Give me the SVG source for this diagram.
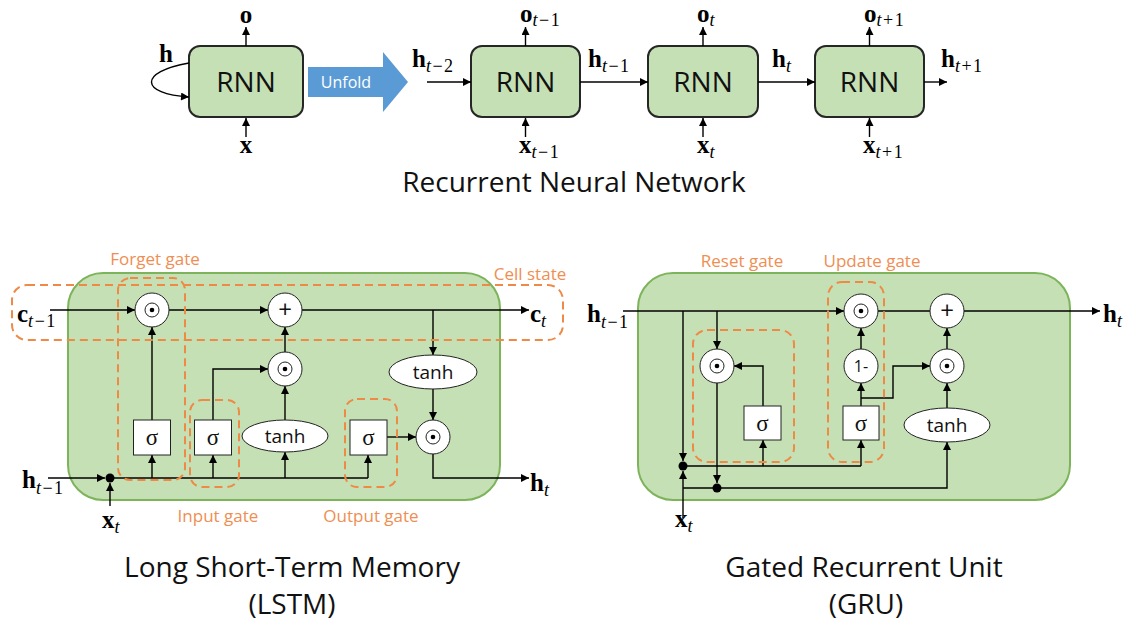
<svg xmlns="http://www.w3.org/2000/svg" width="1136" height="626" viewBox="0 0 1136 626">
  <defs>
    <marker id="ah" viewBox="0 0 10 10" refX="10" refY="5" markerWidth="9" markerHeight="8" markerUnits="userSpaceOnUse" orient="auto">
      <path d="M0,0 L10,5 L0,10 z" fill="#000"/>
    </marker>
    <style>
      .box { fill: #c5e0b4; stroke: #262626; stroke-width: 2; }
      .panel { fill: #c5e0b4; stroke: #7db45b; stroke-width: 2; }
      .gate { fill: none; stroke: #ee8a45; stroke-width: 2; stroke-dasharray: 8 5; }
      .op { fill: #fff; stroke: #222; stroke-width: 1; }
      .wire { fill: none; stroke: #000; stroke-width: 1.4; }
      .arr { marker-end: url(#ah); }
      .var { font-family: "Liberation Serif", serif; font-weight: bold; font-size: 25px; fill: #000; }
      .sub { font-size: 18px; font-weight: normal; letter-spacing: 1.5px; }
      .it { font-style: italic; }
      .lbl { font-family: "Open Sans", sans-serif; fill: #ef8e52; font-size: 17px; text-anchor: middle; }
      .title { font-family: "Open Sans", sans-serif; font-size: 28px; text-anchor: middle; fill: #111; }
      .rnn { font-family: "Open Sans", sans-serif; font-size: 28px; text-anchor: middle; fill: #111; }
      .fn { font-family: "Open Sans", sans-serif; font-size: 19px; text-anchor: middle; fill: #111; }
      .sig { font-family: "Liberation Serif", serif; font-size: 23px; text-anchor: middle; fill: #111; }
      .dot { fill: #000; }
    </style>
  </defs>
  <rect width="1136" height="626" fill="#fff"/>

  <!-- ===== Recurrent Neural Network (folded + unrolled) ===== -->
  <g id="rnn-folded">
    <rect class="box" x="189" y="46" width="114" height="71" rx="11"/>
    <text class="rnn" x="246" y="92">RNN</text>
  </g>
  <g id="unfold-arrow">
    <polygon points="308,67 383,67 383,52 408,82 383,112 383,97 308,97" fill="#5b9bd5"/>
    <text x="346" y="88" font-family="Open Sans, sans-serif" font-size="16" fill="#fff" text-anchor="middle">Unfold</text>
  </g>
  <g id="rnn-t1">
    <rect class="box" x="471" y="46" width="109" height="71" rx="11"/>
    <text class="rnn" x="525.5" y="92">RNN</text>
  </g>
  <g id="rnn-t2">
    <rect class="box" x="648" y="46" width="110" height="71" rx="11"/>
    <text class="rnn" x="703" y="92">RNN</text>
  </g>
  <g id="rnn-t3">
    <rect class="box" x="815" y="46" width="109" height="71" rx="11"/>
    <text class="rnn" x="869.5" y="92">RNN</text>
  </g>

  <g id="rnn-connectors">
    <path class="wire arr" d="M189,63 C138,72 140,94 189,97"/>
    <path class="wire arr" d="M246,46 V27"/>
    <path class="wire arr" d="M246,137 V118"/>
    <path class="wire arr" d="M427,82 H471"/>
    <path class="wire arr" d="M580,82 H648"/>
    <path class="wire arr" d="M758,82 H815"/>
    <path class="wire arr" d="M924,82 H947"/>
    <path class="wire arr" d="M525.5,46 V27"/>
    <path class="wire arr" d="M703,46 V27"/>
    <path class="wire arr" d="M869.5,46 V27"/>
    <path class="wire arr" d="M525.5,137 V118"/>
    <path class="wire arr" d="M703,137 V118"/>
    <path class="wire arr" d="M869.5,137 V118"/>
  </g>

  <g id="rnn-labels">
    <text class="var" x="246" y="23" text-anchor="middle">o</text>
    <text class="var" x="159" y="62">h</text>
    <text class="var" x="246" y="153" text-anchor="middle">x</text>
    <text class="var" x="412" y="67">h<tspan class="sub" dy="5"><tspan class="it">t</tspan>−2</tspan></text>
    <text class="var" x="588" y="67">h<tspan class="sub" dy="5"><tspan class="it">t</tspan>−1</tspan></text>
    <text class="var" x="772" y="67">h<tspan class="sub it" dy="5">t</tspan></text>
    <text class="var" x="941" y="67">h<tspan class="sub" dy="5"><tspan class="it">t</tspan>+1</tspan></text>
    <text class="var" x="520" y="22">o<tspan class="sub" dy="4"><tspan class="it">t</tspan>−1</tspan></text>
    <text class="var" x="697" y="22">o<tspan class="sub it" dy="4">t</tspan></text>
    <text class="var" x="864" y="22">o<tspan class="sub" dy="4"><tspan class="it">t</tspan>+1</tspan></text>
    <text class="var" x="519" y="153">x<tspan class="sub" dy="5"><tspan class="it">t</tspan>−1</tspan></text>
    <text class="var" x="697" y="153">x<tspan class="sub it" dy="5">t</tspan></text>
    <text class="var" x="863" y="153">x<tspan class="sub" dy="5"><tspan class="it">t</tspan>+1</tspan></text>
  </g>
  <text class="title" x="574" y="192">Recurrent Neural Network</text>

  <!-- ===== LSTM cell ===== -->
  <g id="lstm-panel">
    <rect class="panel" x="68" y="273" width="432" height="227" rx="35"/>
  </g>

  <g id="lstm-connectors">
    <path class="wire arr" d="M50,310 H135"/>
    <path class="wire arr" d="M169,310 H268"/>
    <path class="wire arr" d="M302,310 H529"/>
    <path class="wire arr" d="M433,310 V355"/>
    <path class="wire arr" d="M433,389 V420"/>
    <path class="wire arr" d="M433,454 V478 H529"/>
    <path class="wire arr" d="M152,420 V327"/>
    <path class="wire arr" d="M213,420 V369 H268"/>
    <path class="wire arr" d="M285,420 V386"/>
    <path class="wire arr" d="M285,352 V327"/>
    <path class="wire arr" d="M387,437 H416"/>
    <path class="wire arr" d="M48,478 H105"/>
    <path class="wire arr" d="M110,506 V483"/>
    <path class="wire" d="M110,478 H368"/>
    <path class="wire arr" d="M152,478 V455"/>
    <path class="wire arr" d="M213,478 V455"/>
    <path class="wire arr" d="M285,478 V452"/>
    <path class="wire arr" d="M368,478 V455"/>
    <circle class="dot" cx="110" cy="478" r="4.5"/>
  </g>

  <g id="lstm-forget-mul">
    <circle class="op" cx="152" cy="310" r="17"/>
    <circle class="op" cx="152" cy="310" r="7"/>
    <circle class="dot" cx="152" cy="310" r="2.3"/>
  </g>
  <g id="lstm-add">
    <circle class="op" cx="285" cy="310" r="17"/>
    <text x="285" y="318" font-family="Open Sans, sans-serif" font-size="24" text-anchor="middle" fill="#111">+</text>
  </g>
  <g id="lstm-input-mul">
    <circle class="op" cx="285" cy="369" r="17"/>
    <circle class="op" cx="285" cy="369" r="7"/>
    <circle class="dot" cx="285" cy="369" r="2.3"/>
  </g>
  <g id="lstm-output-mul">
    <circle class="op" cx="433" cy="437" r="17"/>
    <circle class="op" cx="433" cy="437" r="7"/>
    <circle class="dot" cx="433" cy="437" r="2.3"/>
  </g>
  <g id="lstm-sigma-f">
    <rect class="op" x="133.5" y="420" width="37" height="35"/>
    <text class="sig" x="152" y="445">σ</text>
  </g>
  <g id="lstm-sigma-i">
    <rect class="op" x="194.5" y="420" width="37" height="35"/>
    <text class="sig" x="213" y="445">σ</text>
  </g>
  <g id="lstm-tanh-in">
    <ellipse class="op" cx="285" cy="436" rx="43" ry="16"/>
    <text class="fn" x="285" y="443">tanh</text>
  </g>
  <g id="lstm-sigma-o">
    <rect class="op" x="350" y="420" width="37" height="35"/>
    <text class="sig" x="368.5" y="445">σ</text>
  </g>
  <g id="lstm-tanh-out">
    <ellipse class="op" cx="433" cy="372" rx="44" ry="17"/>
    <text class="fn" x="433" y="379">tanh</text>
  </g>

  <g id="lstm-gates">
    <rect class="gate" x="12" y="285" width="551" height="55" rx="15"/>
    <rect class="gate" x="118" y="278" width="67" height="202" rx="12"/>
    <rect class="gate" x="190" y="400" width="49" height="87" rx="12"/>
    <rect class="gate" x="345" y="399" width="52" height="88" rx="12"/>
    <text class="lbl" x="155" y="265">Forget gate</text>
    <text class="lbl" x="218" y="522">Input gate</text>
    <text class="lbl" x="371" y="522">Output gate</text>
    <text class="lbl" x="530" y="280">Cell state</text>
  </g>

  <g id="lstm-labels">
    <text class="var" x="17" y="322">c<tspan class="sub" dy="5"><tspan class="it">t</tspan>−1</tspan></text>
    <text class="var" x="530" y="322">c<tspan class="sub it" dy="5">t</tspan></text>
    <text class="var" x="22" y="488">h<tspan class="sub" dy="6"><tspan class="it">t</tspan>−1</tspan></text>
    <text class="var" x="530" y="491">h<tspan class="sub it" dy="5">t</tspan></text>
    <text class="var" x="102" y="528">x<tspan class="sub it" dy="5">t</tspan></text>
  </g>
  <text class="title" x="292" y="577">Long Short-Term Memory</text>
  <text class="title" x="292" y="614">(LSTM)</text>

  <!-- ===== GRU cell ===== -->
  <g id="gru-panel">
    <rect class="panel" x="638" y="273" width="432" height="227" rx="35"/>
  </g>

  <g id="gru-connectors">
    <path class="wire arr" d="M623,311 H844"/>
    <path class="wire arr" d="M683,311 V461"/>
    <path class="wire arr" d="M717,311 V349"/>
    <path class="wire arr" d="M763,406 V366 H734"/>
    <path class="wire arr" d="M717,383 V483"/>
    <path class="wire arr" d="M683,518 V471"/>
    <path class="wire" d="M683,466 H861"/>
    <path class="wire arr" d="M763,466 V440"/>
    <path class="wire arr" d="M861,466 V440"/>
    <path class="wire arr" d="M683,488 H947 V442"/>
    <path class="wire arr" d="M861,406 V383"/>
    <path class="wire arr" d="M861,349 V328"/>
    <path class="wire arr" d="M861,398 H893 V366 H930"/>
    <path class="wire" d="M878,311 H930"/>
    <path class="wire arr" d="M947,349 V328"/>
    <path class="wire arr" d="M947,408 V383"/>
    <path class="wire arr" d="M964,311 H1100"/>
    <circle class="dot" cx="683" cy="466" r="4.5"/>
    <circle class="dot" cx="717" cy="488" r="4.5"/>
  </g>

  <g id="gru-reset-mul">
    <circle class="op" cx="717" cy="366" r="17"/>
    <circle class="op" cx="717" cy="366" r="7"/>
    <circle class="dot" cx="717" cy="366" r="2.3"/>
  </g>
  <g id="gru-sigma-r">
    <rect class="op" x="744" y="406" width="37" height="34"/>
    <text class="sig" x="762.5" y="431">σ</text>
  </g>
  <g id="gru-update-mul">
    <circle class="op" cx="861" cy="311" r="17"/>
    <circle class="op" cx="861" cy="311" r="7"/>
    <circle class="dot" cx="861" cy="311" r="2.3"/>
  </g>
  <g id="gru-one-minus">
    <circle class="op" cx="861" cy="366" r="17"/>
    <text x="861" y="372" font-family="Open Sans, sans-serif" font-size="16" text-anchor="middle" fill="#111">1-</text>
  </g>
  <g id="gru-sigma-z">
    <rect class="op" x="843" y="406" width="36" height="34"/>
    <text class="sig" x="861" y="431">σ</text>
  </g>
  <g id="gru-add">
    <circle class="op" cx="947" cy="311" r="17"/>
    <text x="947" y="319" font-family="Open Sans, sans-serif" font-size="24" text-anchor="middle" fill="#111">+</text>
  </g>
  <g id="gru-cand-mul">
    <circle class="op" cx="947" cy="366" r="17"/>
    <circle class="op" cx="947" cy="366" r="7"/>
    <circle class="dot" cx="947" cy="366" r="2.3"/>
  </g>
  <g id="gru-tanh">
    <ellipse class="op" cx="947" cy="425" rx="43" ry="17"/>
    <text class="fn" x="947" y="432">tanh</text>
  </g>

  <g id="gru-gates">
    <rect class="gate" x="693" y="330" width="101" height="132" rx="14"/>
    <rect class="gate" x="828" y="282" width="56" height="180" rx="14"/>
    <text class="lbl" x="742" y="267">Reset gate</text>
    <text class="lbl" x="872" y="267">Update gate</text>
  </g>

  <g id="gru-labels">
    <text class="var" x="587" y="322">h<tspan class="sub" dy="6"><tspan class="it">t</tspan>−1</tspan></text>
    <text class="var" x="1103" y="322">h<tspan class="sub it" dy="5">t</tspan></text>
    <text class="var" x="675" y="527">x<tspan class="sub it" dy="5">t</tspan></text>
  </g>
  <text class="title" x="864" y="577">Gated Recurrent Unit</text>
  <text class="title" x="866" y="614">(GRU)</text>
</svg>
